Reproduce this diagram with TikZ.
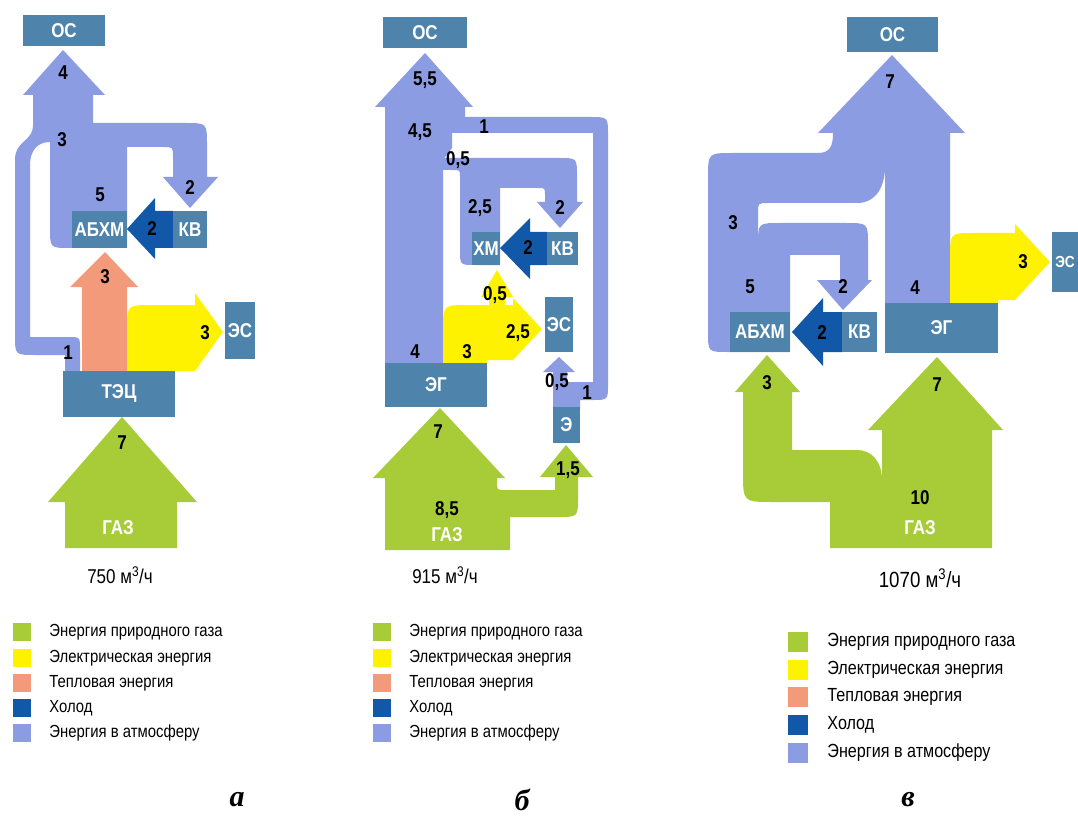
\documentclass[tikz,border=0pt]{standalone}
\usepackage{fontspec}
\newfontfamily\narrowsf{Liberation Sans}[FakeStretch=0.85]
\newfontfamily\panelserif{Liberation Serif}
\usetikzlibrary{positioning}

\definecolor{unitc}{RGB}{78,132,172}
\definecolor{atmc}{RGB}{140,156,226}
\definecolor{gasc}{RGB}{168,204,56}
\definecolor{elc}{RGB}{255,242,0}
\definecolor{heatc}{RGB}{242,154,122}
\definecolor{coldc}{RGB}{18,88,168}

\tikzstyle{unit} = [fill=unitc, text=white, inner sep=0pt, anchor=center,%
                    font=\narrowsf\bfseries\fontsize{20}{20}\selectfont]
\tikzstyle{val} = [inner sep=0pt, font=\narrowsf\bfseries\fontsize{20}{20}\selectfont]
\tikzstyle{gasname} = [val, text=white]
\tikzstyle{rate} = [inner sep=0pt, font=\narrowsf\fontsize{20}{20}\selectfont]
\tikzstyle{keysq} = [minimum size=18pt, inner sep=0pt]
\tikzstyle{keytext} = [inner sep=0pt, text=black, font=\narrowsf\fontsize{17.5}{17.5}\selectfont]
\tikzstyle{panel} = [inner sep=0pt, font=\panelserif\bfseries\itshape\fontsize{30}{30}\selectfont]

\begin{document}
\begin{tikzpicture}[x=1pt, y=-1pt]
	\useasboundingbox (0,0) rectangle (1078,818);
	\fill[white] (0,0) rectangle (1078,818);

	% --- a: TEC ---
	\fill[atmc] (63,50) -- (105,95) -- (93,95) -- (93,123) -- (185,123) .. controls (207,123) .. (207,145) -- (207,177) -- (218,177) -- (190,208) -- (163,177) -- (173,177) -- (173,157) .. controls (173,147) .. (163,147) -- (127,147) -- (127,248) -- (70,248) .. controls (50,248) .. (50,228) -- (50,142) .. controls (38,142) and (30,150) .. (30,165) -- (30,337) -- (68,337) .. controls (80,337) .. (80,349) -- (80,380) -- (65,380) -- (65,355) -- (35,355) .. controls (15,355) .. (15,335) -- (15,160) .. controls (15,140) and (33,142) .. (33,125) -- (33,95) -- (23,95) -- cycle;
	\fill[heatc] (82,380) -- (82,287) -- (70,287) -- (105,252) -- (138,287) -- (127,287) -- (127,380) -- cycle;
	\fill[elc] (127,380) -- (127,330) .. controls (127,305) .. (152,305) -- (195,305) -- (195,293) -- (223,332) -- (195,371) -- (175,371) -- (175,380) -- cycle;
	\fill[gasc] (65,548) -- (65,502) -- (48,502) -- (122,417) -- (197,502) -- (177,502) -- (177,548) -- cycle;
	\fill[coldc] (173,211) -- (155,211) -- (155,198) -- (127,229) -- (155,259) -- (155,248) -- (173,248) -- cycle;

	\node (OSa)   [unit, minimum width=82, minimum height=31] at (64,30.5) {ОС};
	\node (ABHMa) [unit, minimum width=55, minimum height=37] at (99.5,229.5) {АБХМ};
	\node (KVa)   [unit, minimum width=34, minimum height=37] at (190,229.5) {КВ};
	\node (TECa)  [unit, minimum width=112, minimum height=46] at (119,394) {ТЭЦ};
	\node (ESa)   [unit, minimum width=30, minimum height=57] at (240,330.5) {ЭС};

	\node (va1) [val] at (63,73) {4};
	\node (va2) [val] at (62,140) {3};
	\node (va3) [val] at (100,195) {5};
	\node (va4) [val] at (190,188) {2};
	\node (va5) [val] at (152,229) {2};
	\node (va6) [val] at (105,277) {3};
	\node (va7) [val] at (205,333) {3};
	\node (va8) [val] at (68,353) {1};
	\node (va9) [val] at (122,443) {7};
	\node (GASa) [gasname] at (118,528) {ГАЗ};
	\node (ratea) [rate] at (120,575) {750 м\textsuperscript{3}/ч};

	% --- b: gas engine + chiller ---
	\fill[atmc] (425,53) -- (473,107) -- (465,107) -- (465,120) -- (452,133) -- (452,148) -- (443,160) -- (443,372) -- (385,372) -- (385,107) -- (375,107) -- cycle;
	\fill[atmc] (445,117) -- (590,117) .. controls (608,117) .. (608,135) -- (608,384) .. controls (608,400) .. (592,400) -- (580,400) -- (580,410) -- (553,410) -- (553,372) -- (543,372) -- (559,357) -- (575,372) -- (567,372) -- (567,382) -- (593,382) -- (593,133) -- (445,133) -- cycle;
	\fill[atmc] (443,158) -- (559,158) .. controls (577,158) .. (577,176) -- (577,202) -- (583,202) -- (560,228) -- (537,202) -- (545,202) -- (545,195) .. controls (545,188) .. (538,188) -- (500,188) -- (500,265) -- (475,265) .. controls (460,265) .. (460,250) -- (460,176) .. controls (460,170) .. (452,170) -- (443,170) -- cycle;
	\fill[coldc] (547,232) -- (530,232) -- (530,218) -- (500,248) -- (530,279) -- (530,265) -- (547,265) -- cycle;
	\fill[elc] (443,372) -- (443,330) .. controls (443,305) .. (468,305) -- (489,305) -- (489,297) -- (481,297) -- (497,270) -- (513,297) -- (505,297) -- (505,305) -- (513,305) -- (513,298) -- (542,329) -- (513,360) -- (487,360) -- (487,372) -- cycle;
	\fill[gasc] (385,550) -- (385,478) -- (373,478) -- (440,408) -- (505,478) -- (497,478) -- (497,482) .. controls (497,490) .. (505,490) -- (555,490) -- (555,477) -- (540,477) -- (566,445) -- (593,477) -- (578,477) -- (578,497) .. controls (578,517) .. (558,517) -- (510,517) -- (510,550) -- cycle;

	\node (OSb) [unit, minimum width=84, minimum height=31] at (425,32.5) {ОС};
	\node (HMb) [unit, minimum width=28, minimum height=33] at (486,248.5) {ХМ};
	\node (KVb) [unit, minimum width=31, minimum height=33] at (562.5,248.5) {КВ};
	\node (ESb) [unit, minimum width=28, minimum height=55] at (559,324.5) {ЭС};
	\node (EGb) [unit, minimum width=102, minimum height=44] at (436,385) {ЭГ};
	\node (Eb)  [unit, minimum width=27, minimum height=36] at (566.5,425) {Э};

	\node (vb1) [val] at (425,80) {5,5};
	\node (vb2) [val] at (420,132) {4,5};
	\node (vb3) [val] at (484,127) {1};
	\node (vb4) [val] at (458,160) {0,5};
	\node (vb5) [val] at (480,208) {2,5};
	\node (vb6) [val] at (560,208) {2};
	\node (vb7) [val] at (528,248) {2};
	\node (vb8) [val] at (495,295) {0,5};
	\node (vb9) [val] at (518,333) {2,5};
	\node (vb10) [val] at (415,352) {4};
	\node (vb11) [val] at (467,352) {3};
	\node (vb12) [val] at (557,382) {0,5};
	\node (vb13) [val] at (587,393) {1};
	\node (vb14) [val] at (438,432) {7};
	\node (vb15) [val] at (568,470) {1,5};
	\node (vb16) [val] at (447,510) {8,5};
	\node (GASb) [gasname] at (447,535) {ГАЗ};
	\node (rateb) [rate] at (445,575) {915 м\textsuperscript{3}/ч};

	% --- c: gas engine + absorption chiller ---
	\fill[atmc] (892,55) -- (965,133) -- (950,133) -- (950,312) -- (885,312) -- (885,167) .. controls (885,185) and (877,203) .. (857,203) -- (768,203) .. controls (758,203) .. (758,213) -- (758,330) -- (708,330) -- (708,178) .. controls (708,153) .. (733,153) -- (818,153) .. controls (830,153) and (833,146) .. (833,133) -- (818,133) -- cycle;
	\fill[atmc] (708,300) -- (708,332) .. controls (708,352) .. (728,352) -- (790,352) -- (790,255) -- (840,255) -- (840,280) -- (817,280) -- (843,310) -- (872,280) -- (868,280) -- (868,245) .. controls (868,223) .. (846,223) -- (780,223) .. controls (758,223) .. (758,245) -- (758,300) -- cycle;
	\fill[coldc] (842,312) -- (823,312) -- (823,298) -- (792,332) -- (823,366) -- (823,352) -- (842,352) -- cycle;
	\fill[elc] (950,312) -- (950,257) .. controls (950,233) .. (974,233) -- (1015,233) -- (1015,224) -- (1050,262) -- (1015,300) -- (998,300) -- (998,312) -- cycle;
	\fill[gasc] (882,548) -- (882,430) -- (868,430) -- (937,357) -- (1003,430) -- (992,430) -- (992,548) -- cycle;
	\fill[gasc] (830,548) -- (830,502) -- (773,502) .. controls (743,502) .. (743,472) -- (743,392) -- (735,392) -- (767,355) -- (800,392) -- (792,392) -- (792,450) -- (857,450) .. controls (872,450) and (882,462) .. (882,480) -- (882,548) -- cycle;

	\node (OSc)   [unit, minimum width=91, minimum height=35] at (892.5,34.5) {ОС};
	\node (ABHMc) [unit, minimum width=60, minimum height=40] at (760,332) {АБХМ};
	\node (KVc)   [unit, minimum width=35, minimum height=40] at (859.5,332) {КВ};
	\node (EGc)   [unit, minimum width=113, minimum height=50] at (941.5,328) {ЭГ};
	\node (ESc)   [unit, minimum width=26, minimum height=60, font=\narrowsf\bfseries\fontsize{16}{16}\selectfont] at (1065,262) {ЭС};

	\node (vc1) [val] at (890,82) {7};
	\node (vc2) [val] at (733,223) {3};
	\node (vc3) [val] at (750,287) {5};
	\node (vc4) [val] at (843,287) {2};
	\node (vc5) [val] at (915,288) {4};
	\node (vc6) [val] at (822,333) {2};
	\node (vc7) [val] at (1023,262) {3};
	\node (vc8) [val] at (767,383) {3};
	\node (vc9) [val] at (937,385) {7};
	\node (vc10) [val] at (920,498) {10};
	\node (GASc) [gasname] at (920,528) {ГАЗ};
	\node (ratec) [rate, font=\narrowsf\fontsize{22}{22}\selectfont] at (920,578) {1070 м\textsuperscript{3}/ч};

	% --- legends ---
	\node (keya1) [keysq, fill=gasc,  label={[keytext, xshift=18pt]right:Энергия природного газа}] at (22,632) {};
	\node (keya2) [keysq, fill=elc,   label={[keytext, xshift=18pt]right:Электрическая энергия}] at (22,658) {};
	\node (keya3) [keysq, fill=heatc, label={[keytext, xshift=18pt]right:Тепловая энергия}] at (22,683) {};
	\node (keya4) [keysq, fill=coldc, label={[keytext, xshift=18pt]right:Холод}] at (22,708) {};
	\node (keya5) [keysq, fill=atmc,  label={[keytext, xshift=18pt]right:Энергия в атмосферу}] at (22,733) {};

	\node (keyb1) [keysq, fill=gasc,  label={[keytext, xshift=18pt]right:Энергия природного газа}] at (382,632) {};
	\node (keyb2) [keysq, fill=elc,   label={[keytext, xshift=18pt]right:Электрическая энергия}] at (382,658) {};
	\node (keyb3) [keysq, fill=heatc, label={[keytext, xshift=18pt]right:Тепловая энергия}] at (382,683) {};
	\node (keyb4) [keysq, fill=coldc, label={[keytext, xshift=18pt]right:Холод}] at (382,708) {};
	\node (keyb5) [keysq, fill=atmc,  label={[keytext, xshift=18pt]right:Энергия в атмосферу}] at (382,733) {};

	\node (keyc1) [keysq, minimum size=20pt, fill=gasc,  label={[keytext, xshift=19pt, font=\narrowsf\fontsize{19}{19}\selectfont]right:Энергия природного газа}] at (798,642) {};
	\node (keyc2) [keysq, minimum size=20pt, fill=elc,   label={[keytext, xshift=19pt, font=\narrowsf\fontsize{19}{19}\selectfont]right:Электрическая энергия}] at (798,670) {};
	\node (keyc3) [keysq, minimum size=20pt, fill=heatc, label={[keytext, xshift=19pt, font=\narrowsf\fontsize{19}{19}\selectfont]right:Тепловая энергия}] at (798,697) {};
	\node (keyc4) [keysq, minimum size=20pt, fill=coldc, label={[keytext, xshift=19pt, font=\narrowsf\fontsize{19}{19}\selectfont]right:Холод}] at (798,725) {};
	\node (keyc5) [keysq, minimum size=20pt, fill=atmc,  label={[keytext, xshift=19pt, font=\narrowsf\fontsize{19}{19}\selectfont]right:Энергия в атмосферу}] at (798,753) {};

	\node (pa) [panel] at (237,800) {а};
	\node (pb) [panel] at (522,800) {б};
	\node (pc) [panel] at (908,800) {в};
\end{tikzpicture}
\end{document}
